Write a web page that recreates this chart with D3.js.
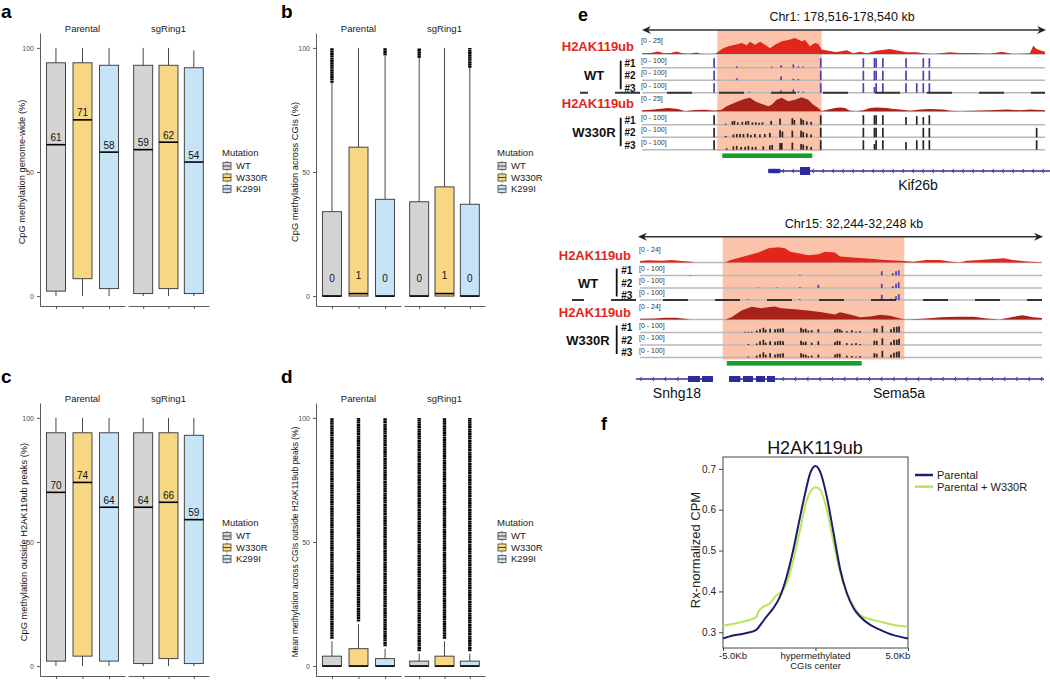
<!DOCTYPE html>
<html>
<head>
<meta charset="utf-8">
<script src="https://cdn.jsdelivr.net/npm/d3@7"></script>
<style>
body { margin: 0; background: #fff; }
svg { display: block; font-family: Arial, "Liberation Sans", sans-serif; }
</style>
</head>
<body>
<div id="fig"></div>
<script>
// ---------- data: panels a-d (boxplots) ----------
const facets = ["Parental", "sgRing1"];
const mutations = ["WT", "W330R", "K299I"];
const mutColors = ["#d4d4d4", "#f8d784", "#c6e4f6"];

// order: Parental WT, W330R, K299I, sgRing1 WT, W330R, K299I
const aLow = [0, 0, 0, 0, 0, 0];
const aQ1 = [2, 7, 3, 1, 3, 1];
const aMed = [61, 71, 58, 59, 62, 54];
const aQ3 = [94, 94, 93, 93, 93, 92];
const aHigh = [100, 100, 100, 100, 100, 99];

const bLow = [0, 0, 0, 0, 0, 0];
const bQ1 = [0, 0, 0, 0, 0, 0];
const bMed = [0, 1, 0, 0, 1, 0];
const bQ3 = [34, 60, 39, 38, 44, 37];
const bHigh = [86, 100, 97, 96, 100, 92];
const bOut = [[86, 100], null, [97, 100], [96, 100], null, [92, 100]];

const cLow = [0, 0, 0, 0, 0, 0];
const cQ1 = [2, 4, 2, 1, 3, 1];
const cMed = [70, 74, 64, 64, 66, 59];
const cQ3 = [94, 94, 94, 94, 94, 93];
const cHigh = [100, 100, 100, 100, 100, 100];

const dLow = [0, 0, 0, 0, 0, 0];
const dQ1 = [0, 0, 0, 0, 0, 0];
const dMed = [0, 0, 0, 0, 0, 0];
const dQ3 = [4, 7, 3, 2, 4, 2];
const dHigh = [10, 17, 7, 5, 10, 5];
const dOut = [[11, 100], [18, 100], [8, 100], [6, 100], [11, 100], [6, 100]];

// ---------- data: panel e (genome browser), positions in kb from window start ----------
// locus 1: Chr1 178,516-178,540 kb
const loc1Highlight = [4.48, 10.7];
const loc1Peak = [4.78, 10.14];
const loc1WtK = [[0,1],[0.5,1.5],[0.97,4],[1.3,1],[1.7,1.5],[2.07,4],[2.4,1],[2.8,0.5],[3.26,2.5],[3.5,0.5],[4.0,0],[4.4,0.5],[4.55,4],[4.84,9],[5.14,12],[5.54,14.5],[5.94,17],[6.24,13.5],[6.43,19],[6.73,14.5],[7.03,19],[7.33,14.5],[7.62,9],[7.92,14.5],[8.32,20],[8.71,22],[9.11,25],[9.51,20],[9.71,22],[10.0,12],[10.3,17],[10.5,15.5],[10.7,7],[11.1,5],[11.5,3],[11.79,4],[12.19,6],[12.58,1],[12.98,3.6],[13.38,1],[13.98,5],[14.77,8],[15.27,5],[15.76,2.6],[16.36,2.6],[16.75,1],[17.35,0],[18.34,2.6],[18.94,1.5],[19.73,1.5],[20.73,0.5],[21.42,3.6],[22.11,0],[23.1,1],[23.3,13],[23.5,8],[23.8,5],[24,3.6]];
const loc1MutK = [[0,1.6],[0.57,2.6],[1.56,5],[2.15,3.6],[2.55,0],[3.15,2],[3.75,2.6],[4.34,1],[4.74,2.6],[5.04,8],[5.34,11.5],[5.74,15.6],[6.14,19.8],[6.43,21],[6.73,15.6],[7.13,11.5],[7.53,8],[7.72,10.4],[8.02,18],[8.32,21],[8.71,15.6],[9.11,18],[9.51,21.9],[9.9,18],[10.2,10.4],[10.5,5.2],[10.7,0],[11.1,3],[11.5,5],[11.79,6],[12.09,5],[12.38,1],[12.78,0],[13.18,1.5],[13.58,5],[13.98,6],[14.57,5],[14.97,3.5],[15.37,3],[15.96,1],[16.56,3],[17.15,3.5],[17.95,3],[18.34,1],[18.94,0],[19.73,1],[20.73,1.5],[21.72,3],[22.51,1.5],[23.1,3],[23.7,2],[24,1.5]];
const loc1Wt1 = [[4.29,100],[5.64,15],[7.72,12],[8.28,25],[9.01,35],[9.31,15],[9.6,12],[10.64,100],[13.18,100],[13.84,100],[13.94,100],[14.34,100],[15.72,100],[16.75,100],[17.11,100]];
const loc1Wt2 = [[4.29,100],[5.64,20],[8.28,40],[9.01,15],[9.31,12],[10.64,100],[13.18,100],[13.84,100],[13.94,100],[14.34,100],[15.72,100],[16.75,100],[17.11,100]];
const loc1Wt3 = [[4.29,100],[6.39,10],[8.28,25],[9.01,35],[9.31,15],[9.6,10],[10.64,100],[13.18,100],[13.84,60],[13.94,100],[14.34,100],[15.72,100],[16.36,100],[16.75,100],[17.11,100]];
const loc1Mut1 = [[4.29,100],[4.98,10],[5.38,35],[5.5,40],[5.7,25],[5.97,30],[6.18,35],[6.33,40],[6.57,25],[6.77,25],[6.97,20],[7.17,25],[7.69,40],[8.22,65],[8.95,70],[9.07,50],[9.47,65],[9.6,50],[9.81,35],[10.07,30],[10.64,100],[13.18,100],[13.84,100],[13.94,100],[14.34,100],[15.72,80],[16.36,90],[16.75,80],[17.11,100]];
const loc1Mut2 = [[4.29,100],[4.98,15],[5.44,30],[5.64,35],[5.84,35],[6.04,35],[6.29,40],[6.48,25],[6.72,35],[7.02,30],[7.31,35],[7.61,45],[8.22,75],[8.36,60],[8.95,70],[9.47,70],[9.6,55],[9.81,40],[10.07,30],[10.64,100],[13.18,100],[13.84,100],[13.94,100],[14.34,100],[16.75,100],[17.11,100],[23.5,100]];
const loc1Mut3 = [[4.29,100],[5.04,15],[5.44,35],[5.64,40],[5.9,30],[6.14,30],[6.33,40],[6.57,30],[6.77,30],[7.22,35],[7.61,45],[7.75,50],[8.22,70],[8.32,70],[8.95,75],[9.47,60],[9.6,55],[9.81,40],[10.07,30],[10.64,100],[13.18,100],[13.84,60],[13.94,100],[14.34,100],[15.72,80],[16.36,100],[16.75,100],[17.11,100],[23.5,100]];
const loc1Gene = { start: 7.52, end: 24.5, utr: [7.52, 8.24], exons: [[9.41, 10.01]] };

// locus 2: Chr15 32,244-32,248 kb
const loc2Highlight = [0.823, 2.63];
const loc2Peak = [0.863, 2.206];
const loc2WtK = [[0,2.1],[0.083,3.2],[0.216,2.7],[0.315,3.7],[0.415,2.1],[0.514,1.1],[0.547,0],[0.846,0],[0.896,3.2],[0.978,6.9],[1.078,10.7],[1.177,14.9],[1.277,21.3],[1.376,22.9],[1.443,21.3],[1.493,16],[1.575,13.9],[1.675,10.7],[1.774,12.3],[1.841,16],[1.94,14.9],[1.99,9.1],[2.09,8],[2.19,6.9],[2.32,5.3],[2.45,3.7],[2.59,2.7],[2.72,1.1],[2.85,3.7],[2.99,3.7],[3.08,1.6],[3.18,0],[3.25,2.7],[3.38,3.7],[3.51,5.3],[3.62,6.4],[3.71,3.7],[3.85,1.6],[4,0.5]];
const loc2MutK = [[0,1.1],[0.15,1.6],[0.25,2.7],[0.35,2.7],[0.45,1.1],[0.5,0],[0.85,0],[0.91,3.5],[1.01,13.5],[1.11,19],[1.21,17],[1.34,19.5],[1.41,17],[1.54,15.5],[1.67,13.5],[1.81,11],[1.94,7.5],[1.99,11],[2.09,7.5],[2.19,3.5],[2.29,4.5],[2.39,7],[2.49,5.5],[2.59,1.6],[2.65,0],[2.85,1.6],[2.99,3.2],[3.15,4.3],[3.32,4.3],[3.45,1.6],[3.58,0],[3.72,4.3],[3.81,6.4],[3.91,3.2],[4,2.1]];
const loc2Wt1 = [[0.5,5],[1.59,8],[2.405,45],[2.514,25],[2.547,45],[2.574,55]];
const loc2Wt2 = [[1.177,5],[1.36,5],[1.59,8],[1.774,35],[2.405,45],[2.514,20],[2.547,45],[2.574,60]];
const loc2Wt3 = [[1.078,8],[1.59,10],[2.405,55],[2.5,15],[2.547,40],[2.574,60]];
const loc2Mut1 = [[1.045,8],[1.078,8],[1.11,8],[1.161,20],[1.194,35],[1.227,50],[1.25,30],[1.294,40],[1.343,35],[1.37,40],[1.396,40],[1.423,45],[1.602,50],[1.625,35],[1.649,40],[1.675,20],[1.708,25],[1.774,35],[1.94,30],[1.963,40],[1.987,35],[2.007,20],[2.057,15],[2.107,25],[2.149,10],[2.189,15],[2.331,45],[2.355,40],[2.411,70],[2.497,35],[2.527,55],[2.554,60],[2.577,65]];
const loc2Mut2 = [[1.078,10],[1.161,15],[1.194,40],[1.227,55],[1.25,25],[1.294,40],[1.343,35],[1.37,40],[1.396,45],[1.423,40],[1.602,45],[1.625,30],[1.649,35],[1.708,25],[1.774,40],[1.94,30],[1.963,45],[1.987,40],[2.057,20],[2.107,15],[2.149,20],[2.189,10],[2.331,45],[2.355,45],[2.411,70],[2.497,30],[2.527,55],[2.554,55],[2.577,65]];
const loc2Mut3 = [[1.078,10],[1.161,20],[1.194,35],[1.227,55],[1.25,30],[1.294,45],[1.343,30],[1.37,40],[1.396,40],[1.423,45],[1.602,45],[1.625,35],[1.649,30],[1.675,15],[1.708,20],[1.774,30],[1.94,30],[1.963,40],[1.987,40],[2.057,20],[2.107,15],[2.149,10],[2.189,15],[2.331,45],[2.355,40],[2.411,70],[2.497,30],[2.527,50],[2.554,60],[2.577,65]];
const loc2Genes = [
  { name: "Snhg18", start: -0.04, end: 0.726, exons: [[0.478, 0.597], [0.617, 0.726]] },
  { name: "Sema5a", start: 0.886, end: 4.02, exons: [[0.886, 0.999], [1.025, 1.124], [1.154, 1.244], [1.264, 1.343]] }
];

// ---------- data: panel f (metaprofile) ----------
const fParentalX = [-5,-4.46,-3.73,-3.2,-2.92,-2.65,-2.28,-1.92,-1.56,-1.2,-0.83,-0.56,-0.29,0,0.25,0.61,0.98,1.34,1.7,2.06,2.42,2.96,3.5,4.22,5];
const fParentalY = [0.285,0.292,0.298,0.306,0.322,0.338,0.359,0.387,0.436,0.502,0.583,0.64,0.689,0.707,0.693,0.632,0.542,0.453,0.395,0.359,0.338,0.318,0.306,0.293,0.285];
const fW330RX = [-5,-4.1,-3.2,-3.12,-2.92,-2.45,-2.1,-1.92,-1.56,-1.2,-0.83,-0.47,-0.2,0,0.25,0.61,0.98,1.34,1.7,2.06,2.42,2.96,3.5,4.22,5];
const fW330RY = [0.316,0.324,0.337,0.347,0.359,0.371,0.391,0.395,0.42,0.477,0.551,0.624,0.649,0.655,0.649,0.6,0.518,0.445,0.395,0.363,0.342,0.332,0.326,0.318,0.314];
const fYTicks = [0.3, 0.4, 0.5, 0.6, 0.7];

// ---------- drawing ----------
const svg = d3.select("#fig").append("svg").attr("width", 1050).attr("height", 681);

function panelLetter(txt, x, y, size) {
  svg.append("text").attr("x", x).attr("y", y).attr("font-size", size)
    .attr("font-weight", "bold").attr("fill", "#000").text(txt);
}

function boxPanel(o) {
  const g = svg.append("g").attr("transform", `translate(${o.dx},${o.dy})`);
  const y = d3.scaleLinear().domain([-4, 106]).range([306, 33]);

  const yAxis = g.append("g").attr("transform", "translate(40,0)")
    .call(d3.axisLeft(y).tickValues([0, 50, 100]).tickSize(3).tickSizeOuter(0));
  yAxis.select(".domain").attr("stroke", "#333").attr("stroke-width", 0.8);
  yAxis.selectAll(".tick line").attr("stroke", "#333").attr("stroke-width", 0.8);
  yAxis.selectAll(".tick text").attr("font-size", 7).attr("fill", "#4d4d4d")
    .attr("font-family", "Arial, 'Liberation Sans', sans-serif");

  g.append("text").attr("transform", `translate(${o.titleX},172) rotate(-90)`)
    .attr("text-anchor", "middle").attr("dy", "0.35em").attr("font-size", o.titleSize)
    .attr("fill", "#111").text(o.title);

  facets.forEach((f, fi) => {
    const range = fi === 0 ? [40, 125] : [128, 209];
    const x = d3.scalePoint().domain(mutations).range(range).padding(0.6);
    const bw = 19;
    const xAxis = g.append("g").attr("transform", "translate(0,306)")
      .call(d3.axisBottom(x).tickSize(3).tickSizeOuter(0).tickFormat(""));
    xAxis.select(".domain").attr("stroke", "#333").attr("stroke-width", 0.8);
    xAxis.selectAll(".tick line").attr("stroke", "#333").attr("stroke-width", 0.8);

    g.append("text").attr("x", (range[0] + range[1]) / 2).attr("y", 29).attr("dy", "0.35em")
      .attr("text-anchor", "middle").attr("font-size", 9.5).attr("fill", "#1a1a1a").text(f);

    mutations.forEach((m, mi) => {
      const i = fi * 3 + mi;
      const cx = x(m);
      const col = "#333";
      g.append("line").attr("x1", cx).attr("x2", cx).attr("y1", y(o.high[i])).attr("y2", y(o.q3[i]))
        .attr("stroke", col).attr("stroke-width", 0.9);
      g.append("line").attr("x1", cx).attr("x2", cx).attr("y1", y(o.q1[i])).attr("y2", y(o.low[i]))
        .attr("stroke", col).attr("stroke-width", 0.9);
      g.append("rect").attr("x", cx - bw / 2).attr("y", y(o.q3[i])).attr("width", bw)
        .attr("height", Math.max(0.5, y(o.q1[i]) - y(o.q3[i])))
        .attr("fill", mutColors[mi]).attr("stroke", col).attr("stroke-width", 0.9);
      g.append("line").attr("x1", cx - bw / 2).attr("x2", cx + bw / 2)
        .attr("y1", y(o.med[i])).attr("y2", y(o.med[i])).attr("stroke", "#000").attr("stroke-width", 1.6);
      if (o.out && o.out[i]) {
        g.append("line").attr("x1", cx).attr("x2", cx)
          .attr("y1", y(o.out[i][0])).attr("y2", y(o.out[i][1]))
          .attr("stroke", "#000").attr("stroke-width", 3.4).attr("stroke-dasharray", "2,0.3");
      }
      if (o.labelOffset != null) {
        g.append("text").attr("x", cx).attr("y", y(o.med[i]) - o.labelOffset).attr("dy", "0.35em")
          .attr("text-anchor", "middle").attr("font-size", 10).attr("fill", "#111").text(o.med[i]);
      }
    });
  });

  // legend
  const lg = g.append("g").attr("transform", `translate(${o.legendX},153)`);
  lg.append("text").attr("x", 0).attr("y", 0).attr("dy", "0.35em").attr("font-size", 9.5)
    .attr("fill", "#222").text("Mutation");
  mutations.forEach((m, mi) => {
    const ky = 13 + mi * 11.5;
    lg.append("line").attr("x1", 5).attr("x2", 5).attr("y1", ky - 5).attr("y2", ky + 5)
      .attr("stroke", "#444").attr("stroke-width", 0.8);
    lg.append("rect").attr("x", 1).attr("y", ky - 3.5).attr("width", 8).attr("height", 7)
      .attr("fill", mutColors[mi]).attr("stroke", "#444").attr("stroke-width", 0.8);
    lg.append("line").attr("x1", 1).attr("x2", 9).attr("y1", ky).attr("y2", ky)
      .attr("stroke", "#444").attr("stroke-width", 1);
    lg.append("text").attr("x", 14).attr("y", ky).attr("dy", "0.35em").attr("font-size", 9.5)
      .attr("fill", "#222").text(m);
  });
}

boxPanel({ dx: 0, dy: 0, titleX: 22, titleSize: 9.3, title: "CpG methylation genome-wide (%)", legendX: 222,
  low: aLow, q1: aQ1, med: aMed, q3: aQ3, high: aHigh, labelOffset: 7 });
boxPanel({ dx: 276, dy: 0, titleX: 19, titleSize: 9.3, title: "CpG methylation across CGIs (%)", legendX: 221,
  low: bLow, q1: bQ1, med: bMed, q3: bQ3, high: bHigh, out: bOut, labelOffset: 18 });
boxPanel({ dx: 0, dy: 370, titleX: 24, titleSize: 9.3, title: "CpG methylation outside H2AK119ub peaks (%)", legendX: 222,
  low: cLow, q1: cQ1, med: cMed, q3: cQ3, high: cHigh, labelOffset: 7 });
boxPanel({ dx: 276, dy: 370, titleX: 19, titleSize: 8.4, title: "Mean methylation across CGIs outside H2AK119ub peaks (%)", legendX: 221,
  low: dLow, q1: dQ1, med: dMed, q3: dQ3, high: dHigh, out: dOut, labelOffset: null });

panelLetter("a", 1, 18, 19);
panelLetter("b", 281, 18, 19);
panelLetter("c", 1, 383, 19);
panelLetter("d", 281, 383, 19);
panelLetter("e", 578, 21, 18);
panelLetter("f", 601, 430, 18);

// ---------- panel e ----------
const red = "#e3261b", darkRed = "#a8221a", wtBar = "#5040b0", mutBar = "#2e2222";

function locus(L) {
  const x = L.x;
  const g = svg.append("g");
  // highlight
  g.append("rect").attr("x", x(L.hl[0])).attr("y", L.hlY[0]).attr("width", x(L.hl[1]) - x(L.hl[0]))
    .attr("height", L.hlY[1] - L.hlY[0]).attr("fill", "#fbc4aa");
  // coordinate arrow
  const [ax0, ax1] = L.arrowX;
  g.append("line").attr("x1", ax0 + 4).attr("x2", ax1 - 4).attr("y1", L.arrowY).attr("y2", L.arrowY)
    .attr("stroke", "#333").attr("stroke-width", 1.5);
  g.append("path").attr("d", `M${ax0},${L.arrowY} L${ax0 + 9},${L.arrowY - 4} L${ax0 + 6},${L.arrowY} L${ax0 + 9},${L.arrowY + 4} Z`).attr("fill", "#222");
  g.append("path").attr("d", `M${ax1},${L.arrowY} L${ax1 - 9},${L.arrowY - 4} L${ax1 - 6},${L.arrowY} L${ax1 - 9},${L.arrowY + 4} Z`).attr("fill", "#222");
  g.append("text").attr("x", L.chrX).attr("y", L.arrowY - 9).attr("text-anchor", "middle")
    .attr("font-size", 12.5).attr("fill", "#111").text(L.chr);

  const x0 = x.range()[0], x1 = x.range()[1];
  // signal tracks
  [[L.kWt, L.kY[0], red], [L.kMut, L.kY[1], darkRed]].forEach(([data, base, col]) => {
    const yk = d3.scaleLinear().domain([0, L.kMax]).range([base, base - 16]).clamp(true);
    g.append("line").attr("x1", x0).attr("x2", x1).attr("y1", base).attr("y2", base)
      .attr("stroke", "#b8b8b8").attr("stroke-width", 1.5);
    g.append("path").datum(data)
      .attr("d", d3.area().x(d => x(d[0])).y0(base).y1(d => yk(d[1])))
      .attr("fill", col);
    g.append("text").attr("x", x0 - 1).attr("y", base - 13).attr("dy", "0.35em")
      .attr("font-size", 7).attr("fill", "#333").text(`[0 - ${L.kMax}]`);
  });
  // methylation tracks
  const methTracks = [
    [L.wt[0], L.wtY[0], wtBar], [L.wt[1], L.wtY[1], wtBar], [L.wt[2], L.wtY[2], wtBar],
    [L.mut[0], L.mutY[0], mutBar], [L.mut[1], L.mutY[1], mutBar], [L.mut[2], L.mutY[2], mutBar]
  ];
  methTracks.forEach(([data, base, col]) => {
    const ym = d3.scaleLinear().domain([0, 100]).range([0, 9.5]);
    g.append("line").attr("x1", x0).attr("x2", x1).attr("y1", base).attr("y2", base)
      .attr("stroke", "#b8b8b8").attr("stroke-width", 1.5);
    g.selectAll(null).data(data).join("rect")
      .attr("x", d => x(d[0]) - 0.8).attr("width", 1.7)
      .attr("y", d => base - ym(d[1])).attr("height", d => ym(d[1]))
      .attr("fill", col);
    g.append("text").attr("x", x0 - 1).attr("y", base - 7.3).attr("dy", "0.35em")
      .attr("font-size", 7).attr("fill", "#333").text("[0 - 100]");
  });
  // separator
  g.append("line").attr("x1", L.sepX).attr("x2", x1).attr("y1", L.wtY[2]).attr("y2", L.wtY[2])
    .attr("stroke", "#333").attr("stroke-width", 2)
    .attr("stroke-dasharray", "25,27").attr("stroke-dashoffset", L.sepOffset);
  // peak bar
  g.append("rect").attr("x", x(L.peak[0])).attr("y", L.peakY - 2.3).attr("width", x(L.peak[1]) - x(L.peak[0]))
    .attr("height", 4.6).attr("fill", "#15a02c");
  // genes
  const geneCol = "#2b2b9b";
  L.genes.forEach(gn => {
    const gs = Math.max(x0 - 4, x(gn.start)), ge = Math.min(1050, x(gn.end));
    g.append("line").attr("x1", gs).attr("x2", ge).attr("y1", L.geneY).attr("y2", L.geneY)
      .attr("stroke", geneCol).attr("stroke-width", 1.3);
    // strand chevrons (minus strand, pointing left)
    d3.range(gs + 4, ge - 2, L.chevStep).forEach(cx => {
      g.append("path").attr("d", `M${cx + 1.6},${L.geneY - 2.2} L${cx},${L.geneY} L${cx + 1.6},${L.geneY + 2.2}`)
        .attr("fill", "none").attr("stroke", geneCol).attr("stroke-width", 0.9);
    });
    if (gn.utr) {
      g.append("rect").attr("x", x(gn.utr[0])).attr("y", L.geneY - 2.2)
        .attr("width", x(gn.utr[1]) - x(gn.utr[0])).attr("height", 4.4).attr("fill", geneCol);
    }
    gn.exons.forEach(ex => {
      g.append("rect").attr("x", x(ex[0])).attr("y", L.geneY - (gn.utr ? 4 : 3))
        .attr("width", x(ex[1]) - x(ex[0])).attr("height", gn.utr ? 8 : 6).attr("fill", geneCol);
    });
    g.append("text").attr("x", gn.labelX).attr("y", L.geneY + 13.7).attr("dy", "0.35em")
      .attr("text-anchor", "middle").attr("font-size", 14).attr("fill", "#111").text(gn.name);
  });
  // left labels
  [[L.kY[0], "H2AK119ub"], [L.kY[1], "H2AK119ub"]].forEach(([base, t]) => {
    g.append("text").attr("x", L.kLabelX).attr("y", base - 7.5).attr("dy", "0.35em")
      .attr("text-anchor", "end").attr("font-size", 13).attr("font-weight", "bold").attr("fill", red).text(t);
  });
  [[L.wtY, "WT"], [L.mutY, "W330R"]].forEach(([ys, t]) => {
    g.append("text").attr("x", L.groupX).attr("y", ys[1] - 5).attr("dy", "0.35em")
      .attr("text-anchor", "middle").attr("font-size", 13).attr("font-weight", "bold").attr("fill", "#111").text(t);
    g.append("line").attr("x1", L.bracketX).attr("x2", L.bracketX).attr("y1", ys[0] - 7).attr("y2", ys[2] - 3.5)
      .attr("stroke", "#111").attr("stroke-width", 1.8);
    ys.forEach((yy, k) => {
      g.append("text").attr("x", L.repX).attr("y", yy - 4.7).attr("dy", "0.35em")
        .attr("text-anchor", "middle").attr("font-size", 10).attr("font-weight", "bold").attr("fill", "#111").text("#" + (k + 1));
    });
  });
}

locus({
  x: d3.scaleLinear().domain([0, 24]).range([642, 1045]),
  chr: "Chr1: 178,516-178,540 kb", chrX: 842, arrowX: [642, 1046], arrowY: 30,
  hl: loc1Highlight, hlY: [29.5, 151], peak: loc1Peak, peakY: 155.7,
  kWt: loc1WtK, kMut: loc1MutK, kMax: 25, kY: [54, 111.3],
  wt: [loc1Wt1, loc1Wt2, loc1Wt3], wtY: [67.7, 80.2, 92.7],
  mut: [loc1Mut1, loc1Mut2, loc1Mut3], mutY: [124.7, 137.3, 149.7],
  sepX: 580, sepOffset: 17,
  genes: [Object.assign({ name: "Kif26b", labelX: 918 }, loc1Gene)], geneY: 171, chevStep: 10,
  kLabelX: 634, groupX: 594, bracketX: 620.7, repX: 630
});

locus({
  x: d3.scaleLinear().domain([0, 4]).range([640, 1042]),
  chr: "Chr15: 32,244-32,248 kb", chrX: 854, arrowX: [638, 1043], arrowY: 236.7,
  hl: loc2Highlight, hlY: [236.7, 359.5], peak: loc2Peak, peakY: 363.3,
  kWt: loc2WtK, kMut: loc2MutK, kMax: 24, kY: [262.5, 319.5],
  wt: [loc2Wt1, loc2Wt2, loc2Wt3], wtY: [275.5, 288, 300],
  mut: [loc2Mut1, loc2Mut2, loc2Mut3], mutY: [332.5, 345, 357.5],
  sepX: 572, sepOffset: 13,
  genes: [Object.assign({ labelX: 677 }, loc2Genes[0]), Object.assign({ labelX: 899 }, loc2Genes[1])],
  geneY: 379, chevStep: 12.3,
  kLabelX: 631, groupX: 588, bracketX: 616.7, repX: 626.7
});

// ---------- panel f ----------
const fx = d3.scaleLinear().domain([-5, 5]).range([723, 908]);
const fy = d3.scaleLinear().domain([0.2615, 0.729]).range([648, 457]);
const fg = svg.append("g");
fg.append("text").attr("x", 815).attr("y", 448).attr("dy", "0.35em").attr("text-anchor", "middle")
  .attr("font-size", 18).attr("fill", "#111").text("H2AK119ub");
fg.append("rect").attr("x", 723).attr("y", 457).attr("width", 185).attr("height", 191)
  .attr("fill", "none").attr("stroke", "#444").attr("stroke-width", 1);
const fyAxis = fg.append("g").attr("transform", "translate(723,0)")
  .call(d3.axisLeft(fy).tickValues(fYTicks).tickFormat(d3.format(".1f")).tickSize(4).tickSizeOuter(0));
fyAxis.select(".domain").remove();
fyAxis.selectAll(".tick line").attr("stroke", "#444");
fyAxis.selectAll(".tick text").attr("font-size", 10).attr("fill", "#222")
  .attr("font-family", "Arial, 'Liberation Sans', sans-serif");
const fxAxis = fg.append("g").attr("transform", "translate(0,648)")
  .call(d3.axisBottom(fx).tickValues([-5, 0, 5]).tickSize(3).tickFormat(""));
fxAxis.select(".domain").remove();
fxAxis.selectAll(".tick line").attr("stroke", "#444");
[[-5, "-5.0Kb"], [0, "hypermethylated"], [5, "5.0Kb"]].forEach(([v, t]) => {
  fg.append("text").attr("x", fx(v) + (v === -5 ? 10 : v === 5 ? -10 : 0)).attr("y", 656).attr("dy", "0.35em")
    .attr("text-anchor", "middle").attr("font-size", 9.5).attr("fill", "#222").text(t);
});
fg.append("text").attr("x", fx(0)).attr("y", 666).attr("dy", "0.35em").attr("text-anchor", "middle")
  .attr("font-size", 9.5).attr("fill", "#222").text("CGIs center");
fg.append("text").attr("transform", "translate(695,550) rotate(-90)").attr("text-anchor", "middle")
  .attr("dy", "0.35em").attr("font-size", 13).attr("fill", "#222").text("Rx-normalized CPM");

const fLine = d3.line().x(d => fx(d[0])).y(d => fy(d[1])).curve(d3.curveMonotoneX);
const fSeries = [
  { name: "Parental", color: "#1f1b6e", pts: fParentalX.map((v, i) => [v, fParentalY[i]]) },
  { name: "Parental + W330R", color: "#b6e65a", pts: fW330RX.map((v, i) => [v, fW330RY[i]]) }
];
fSeries.slice().reverse().forEach(s => {
  fg.append("path").datum(s.pts).attr("d", fLine).attr("fill", "none")
    .attr("stroke", s.color).attr("stroke-width", 2);
});
fSeries.forEach((s, i) => {
  const ly = 475 + i * 11.7;
  fg.append("line").attr("x1", 915).attr("x2", 933).attr("y1", ly).attr("y2", ly)
    .attr("stroke", s.color).attr("stroke-width", 2.5);
  fg.append("text").attr("x", 937).attr("y", ly).attr("dy", "0.35em").attr("font-size", 11)
    .attr("fill", "#222").text(s.name);
});
</script>
</body>
</html>
